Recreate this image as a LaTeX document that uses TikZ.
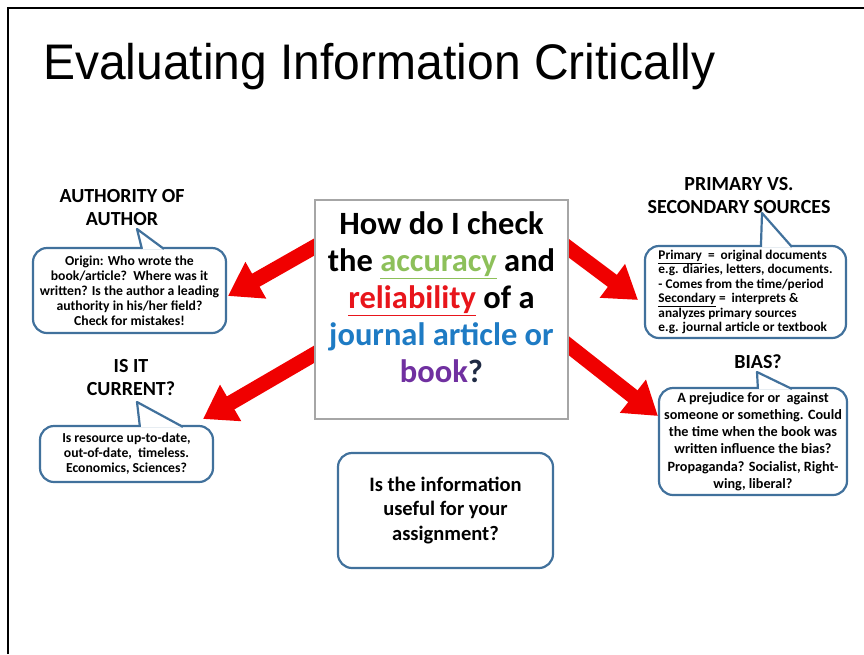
\documentclass[tikz,border=0pt]{standalone}
\usepackage{fontspec}
\setmainfont{Carlito}
\newfontfamily\titlefont{Liberation Sans}
\usetikzlibrary{arrows.meta,calc,backgrounds}
\definecolor{bubbleblue}{HTML}{41719C}
\definecolor{accgreen}{HTML}{8DC05A}
\definecolor{relred}{HTML}{E8151B}
\definecolor{jblue}{HTML}{1E7BC4}
\definecolor{bookpurple}{HTML}{7030A0}
\definecolor{qnavy}{HTML}{1F2A44}
\definecolor{arrowred}{HTML}{F00000}
\begin{document}
\begin{tikzpicture}[x=1pt, y=-1pt,
  bubble/.style={rectangle, draw=bubbleblue, line width=2.2pt, rounded corners=14pt, fill=white, inner sep=0pt, align=center, font=\bfseries\fontsize{13.7}{15}\selectfont},
  heading/.style={align=center, font=\bfseries\fontsize{20}{23}\selectfont},
  tail/.style={draw=bubbleblue, line width=2.2pt, fill=white, line join=round},
  bigarrow/.style={arrowred, line width=15pt, -{Triangle[length=32pt, width=40pt]}},
  qbox/.style={rectangle, draw=gray!70, line width=1.2pt, fill=white},
  qtext/.style={align=center, font=\bfseries\fontsize{32.5}{37}\selectfont}
]
\useasboundingbox (0,0) rectangle (864,654);

% Slide frame and title
\draw[line width=2.5pt] (8,654) -- (8,8) -- (864,8);
\node[anchor=base west, inner sep=0pt, font=\titlefont\fontsize{50}{60}\selectfont] (title) at (43,79) {\scalebox{0.96}[1]{Evaluating Information Critically}};

% Central question
\node[qbox, minimum width=253pt, minimum height=219pt] (q) at (441.5,309.5) {};
\node[qtext] (qt) at (441.5,297.5) {How do I check\\
  the \textcolor{accgreen}{\underline{accuracy}} and\\
  \textcolor{relred}{\underline{reliability}} of a\\
  \textcolor{jblue}{journal article or}\\
  \textcolor{bookpurple}{book}\textcolor{qnavy}{?}};

% Headings
\node[heading] (hauth) at (122,208) {AUTHORITY OF\\AUTHOR};
\node[heading] (hprim) at (739,196) {PRIMARY VS.\\SECONDARY SOURCES};
\node[heading] (hcur) at (131,378) {IS IT\\CURRENT?};
\node[heading] (hbias) at (758,362) {BIAS?};

% Speech bubbles
\node[bubble, minimum width=193pt, minimum height=85pt] (auth) at (129.5,290.5) {Origin: Who wrote the\\
  book/article?\ \ Where was it\\
  written? Is the author a leading\\
  authority in his/her field?\\
  Check for mistakes!};
\node[bubble, minimum width=201pt, minimum height=92pt, align=left, font=\bfseries\fontsize{13.3}{14.4}\selectfont] (prim) at (745.5,292) {\underline{Primary}\ \ =\ \ original documents\\
  e.g. diaries, letters, documents.\\
  - Comes\ from the time/period\\
  \underline{Secondary}\ =\ \ interprets \&\\
  analyzes primary sources\\
  e.g. journal article or textbook};
\node[bubble, minimum width=173pt, minimum height=56pt] (cur) at (126.5,454) {Is resource up-to-date,\\
  out-of-date,\ \ timeless.\\
  Economics, Sciences?};
\node[bubble, minimum width=188pt, minimum height=107pt, font=\bfseries\fontsize{14.2}{17.2}\selectfont] (bias) at (753,441.5) {A prejudice for or\ \ against\\
  someone or something. Could\\
  the time when the book was\\
  written influence the bias?\\
  Propaganda? Socialist, Right-\\
  wing, liberal?};
\node[bubble, minimum width=215pt, minimum height=115pt, font=\bfseries\fontsize{20.5}{24.5}\selectfont] (useful) at (445.5,510.5) {Is the information\\
  useful for your\\
  assignment?};

% Bubble tails
\filldraw[tail] ($(auth.north west)+(110,2)$) -- (137,229) -- ($(auth.north west)+(132,2)$);
\filldraw[tail] ($(prim.north west)+(117,2)$) -- (762,213) -- ($(prim.north west)+(148,2)$);
\filldraw[tail] ($(cur.north west)+(101,2)$) -- (137,402) -- ($(cur.north west)+(144,2)$);
\filldraw[tail] ($(bias.north west)+(100,2)$) -- (757,372) -- ($(bias.north west)+(134,2)$);

% Arrow tips
\coordinate (tipauth) at (228,296);
\coordinate (tipprim) at (638,300);
\coordinate (tipcur) at (203,419);
\coordinate (tipbias) at (658,416);

% Arrows (behind the question box)
\begin{scope}[on background layer]
\draw[bigarrow] ($(q.north west)+(15,39)$) -- (tipauth);
\draw[bigarrow] ($(q.north east)+(-13,39)$) -- (tipprim);
\draw[bigarrow] ($(q.north west)+(15,146)$) -- (tipcur);
\draw[bigarrow] ($(q.north east)+(-13,136)$) -- (tipbias);
\end{scope}

\end{tikzpicture}
\end{document}
